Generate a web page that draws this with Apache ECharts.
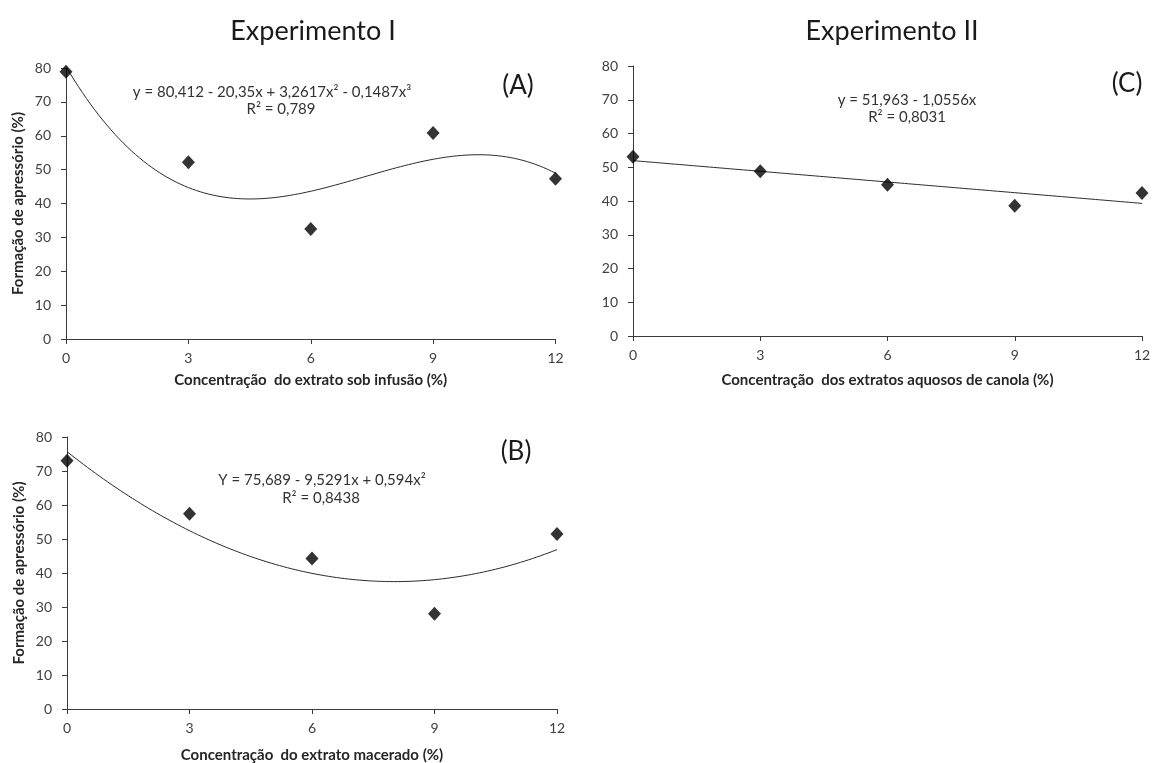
<!DOCTYPE html>
<html>
<head>
<meta charset="utf-8">
<script src="https://cdn.jsdelivr.net/npm/echarts@6/dist/echarts.min.js"></script>
<style>
  html, body { margin: 0; padding: 0; background: #fff; }
  #chart { width: 1152px; height: 763px; }
</style>
</head>
<body>
<div id="chart"></div>
<script>
// Extract concentrations (%) shared by the three experiments
const concentrations = [0, 3, 6, 9, 12];

// Appressorium formation (%) per treatment
const infusaoValues  = [78.9, 52.2, 32.5, 60.8, 47.3];   // (A) extrato sob infusão
const maceradoValues = [73.0, 57.4, 44.3, 28.0, 51.5];   // (B) extrato macerado
const canolaValues   = [53.1, 48.8, 44.8, 38.6, 42.4];   // (C) extratos aquosos de canola

// Fitted trendline coefficients: c0 + c1·x + c2·x² + c3·x³
const infusaoCoef  = [80.412, -20.35, 3.2617, -0.1487];
const maceradoCoef = [75.689, -9.5291, 0.594];
const canolaCoef   = [51.963, -1.0556];

// Axis ticks
const xTicks = [0, 3, 6, 9, 12];
const yTicks = [0, 10, 20, 30, 40, 50, 60, 70, 80];

// Texts
const titles = ['Experimento I', 'Experimento II'];
const panelTags = ['(A)', '(B)', '(C)'];
const equations = [
  ['y = 80,412 - 20,35x + 3,2617x² - 0,1487x³', 'R² = 0,789'],
  ['Y = 75,689 - 9,5291x + 0,594x²', 'R² = 0,8438'],
  ['y = 51,963 - 1,0556x', 'R² = 0,8031']
];
const xNames = [
  'Concentração  do extrato sob infusão (%)',
  'Concentração  do extrato macerado (%)',
  'Concentração  dos extratos aquosos de canola (%)'
];
const yName = 'Formação de apressório (%)';

const FONT = 'Lato, "DejaVu Sans", sans-serif';

function poly(coef, x) {
  return coef.reduce((acc, c, i) => acc + c * Math.pow(x, i), 0);
}
function trendline(coef) {
  const pts = [];
  for (let i = 0; i <= 120; i++) {
    const x = i / 10;
    pts.push([x, poly(coef, x)]);
  }
  return pts;
}
function pairs(values) {
  return concentrations.map((c, i) => [c, values[i]]);
}

const axisLineStyle = { color: '#3a3a3a', width: 1 };

function xAxis(gridIndex, name, nameGap) {
  return {
    type: 'value', gridIndex,
    min: xTicks[0], max: xTicks[xTicks.length - 1], interval: 3,
    name, nameLocation: 'middle', nameGap,
    nameTextStyle: { fontFamily: FONT, fontSize: 15, fontWeight: 'bold', color: '#262626' },
    axisLine: { show: true, onZero: false, lineStyle: axisLineStyle },
    axisTick: { show: true, length: 5, inside: false, lineStyle: axisLineStyle },
    axisLabel: { fontFamily: FONT, fontSize: 14, color: '#404040', margin: 12 },
    splitLine: { show: false }
  };
}
function yAxis(gridIndex, name) {
  return {
    type: 'value', gridIndex,
    min: yTicks[0], max: yTicks[yTicks.length - 1], interval: 10,
    name: name || '', nameLocation: 'middle', nameGap: 40,
    nameTextStyle: { fontFamily: FONT, fontSize: 15, fontWeight: 'bold', color: '#262626' },
    axisLine: { show: true, lineStyle: axisLineStyle },
    axisTick: { show: true, length: 5, inside: false, lineStyle: axisLineStyle },
    axisLabel: { fontFamily: FONT, fontSize: 14, color: '#404040', margin: 15 },
    splitLine: { show: false }
  };
}

function scatter(idx, values) {
  return {
    type: 'scatter', xAxisIndex: idx, yAxisIndex: idx,
    data: pairs(values), symbol: 'diamond', symbolSize: [13, 14],
    itemStyle: { color: '#000' }, z: 3
  };
}
function fitLine(idx, coef) {
  return {
    type: 'line', xAxisIndex: idx, yAxisIndex: idx,
    data: trendline(coef), showSymbol: false, smooth: false,
    lineStyle: { color: '#2b2b2b', width: 1 }, z: 2
  };
}

function label(text, x, y, size, extra) {
  return {
    type: 'text', x, y,
    style: Object.assign({
      text, fontFamily: FONT, fontSize: size, fill: '#1a1a1a',
      textAlign: 'center', textVerticalAlign: 'middle'
    }, extra || {})
  };
}

const chart = echarts.init(document.getElementById('chart'));
chart.setOption({
  animation: false,
  backgroundColor: '#fff',
  grid: [
    { left: 66, top: 68, width: 489.5, height: 271, outerBoundsMode: 'none', containLabel: false },
    { left: 67, top: 437, width: 490, height: 272, outerBoundsMode: 'none', containLabel: false },
    { left: 633, top: 66, width: 509, height: 270, outerBoundsMode: 'none', containLabel: false }
  ],
  xAxis: [
    xAxis(0, xNames[0], 34),
    xAxis(1, xNames[1], 39),
    xAxis(2, xNames[2], 37)
  ],
  yAxis: [
    yAxis(0, yName),
    yAxis(1, yName),
    yAxis(2, '')
  ],
  series: [
    fitLine(0, infusaoCoef), scatter(0, infusaoValues),
    fitLine(1, maceradoCoef), scatter(1, maceradoValues),
    fitLine(2, canolaCoef), scatter(2, canolaValues)
  ],
  graphic: [
    label(titles[0], 313, 31, 27),
    label(titles[1], 892, 31, 27),
    label(panelTags[0], 518, 86, 26),
    label(panelTags[1], 516, 452, 26),
    label(panelTags[2], 1127, 84, 26),
    label(equations[0][0], 272, 92, 15, { fill: '#333' }),
    label(equations[0][1], 281, 109, 15, { fill: '#333' }),
    label(equations[1][0], 322, 480, 15, { fill: '#333' }),
    label(equations[1][1], 321, 498, 15, { fill: '#333' }),
    label(equations[2][0], 907, 100, 15, { fill: '#333' }),
    label(equations[2][1], 907, 117, 15, { fill: '#333' })
  ]
});
</script>
</body>
</html>
